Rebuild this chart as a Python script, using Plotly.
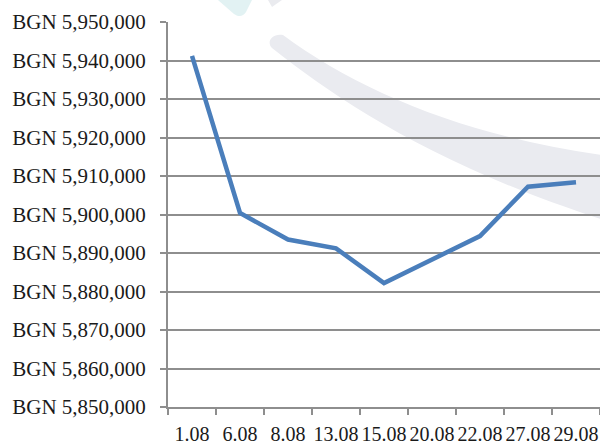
import plotly.graph_objects as go

# ---- data ----
dates = ["1.08", "6.08", "8.08", "13.08", "15.08", "20.08", "22.08", "27.08", "29.08"]
values = [5941200, 5900400, 5893500, 5891200, 5882200, 5888300, 5894400, 5907200, 5908400]
y_tick_values = [5850000, 5860000, 5870000, 5880000, 5890000, 5900000,
                 5910000, 5920000, 5930000, 5940000, 5950000]
y_tick_labels = ["BGN {:,}".format(v) for v in y_tick_values]

W, H = 600, 446
L, R, T, B = 168, 0, 22, 39
pw, ph = W - L - R, H - T - B


def px(x, y):
    return ((x - L) / pw, (H - B - y) / ph)


def path(points_cmds):
    out = []
    for cmd, pts in points_cmds:
        coords = []
        for (x, y) in pts:
            a, b = px(x, y)
            coords.append(f"{a:.4f},{b:.4f}")
        out.append(cmd + " " + " ".join(coords))
    return " ".join(out) + " Z"


swoosh = path([
    ("M", [(283, 35)]),
    ("C", [(360, 92), (470, 138), (610, 156)]),
    ("L", [(610, 222)]),
    ("C", [(440, 168), (340, 102), (272, 48)]),
    ("C", [(266, 42), (272, 33), (283, 35)]),
])
cyan = path([
    ("M", [(218, 0)]),
    ("L", [(252, 0)]),
    ("L", [(246, 12)]),
    ("C", [(243, 17), (238, 17), (234, 14)]),
])
gray_small = path([
    ("M", [(268, 0)]),
    ("L", [(282, 0)]),
    ("L", [(272, 7)]),
])

fig = go.Figure()
fig.add_trace(go.Scatter(
    x=dates, y=values, mode="lines",
    line=dict(color="#4a7ebb", width=4.5),
    hoverinfo="skip", showlegend=False,
))

fig.update_layout(
    width=W, height=H,
    autosize=False,
    margin=dict(l=L, r=R, t=T, b=B, pad=0, autoexpand=False),
    paper_bgcolor="white",
    plot_bgcolor="rgba(0,0,0,0)",
    font=dict(family="Liberation Serif", size=20, color="#1a1a1a"),
    shapes=[
        dict(type="path", xref="paper", yref="paper", path=swoosh,
             fillcolor="#eaebf0", line=dict(width=0), layer="below"),
        dict(type="path", xref="paper", yref="paper", path=cyan,
             fillcolor="#e2f2f3", line=dict(width=0), layer="below"),
        dict(type="path", xref="paper", yref="paper", path=gray_small,
             fillcolor="#eaebef", line=dict(width=0), layer="below"),
    ],
)

fig.update_xaxes(
    type="category",
    range=[-0.5, len(dates) - 0.5],
    automargin=False,
    tickangle=0,
    showgrid=False, zeroline=False,
    showline=True, linecolor="#8e8e8e", linewidth=2,
    ticks="outside", tickson="boundaries", ticklen=6,
    tickcolor="#8e8e8e", tickwidth=2,
    ticklabelstandoff=8,
    tickfont=dict(size=20),
)
fig.update_yaxes(
    automargin=False,
    range=[5850000, 5950000],
    tickvals=y_tick_values, ticktext=y_tick_labels,
    showgrid=True, gridcolor="#8e8e8e", gridwidth=2,
    zeroline=False,
    showline=True, linecolor="#8e8e8e", linewidth=2,
    ticks="outside", ticklen=6, tickcolor="#8e8e8e", tickwidth=2,
    ticklabelstandoff=10,
    tickfont=dict(size=21),
)

fig.write_html(
    "out.html",
    config={"displayModeBar": False, "staticPlot": True},
    post_script="document.body.style.margin='0';document.body.style.overflow='hidden';",
)
